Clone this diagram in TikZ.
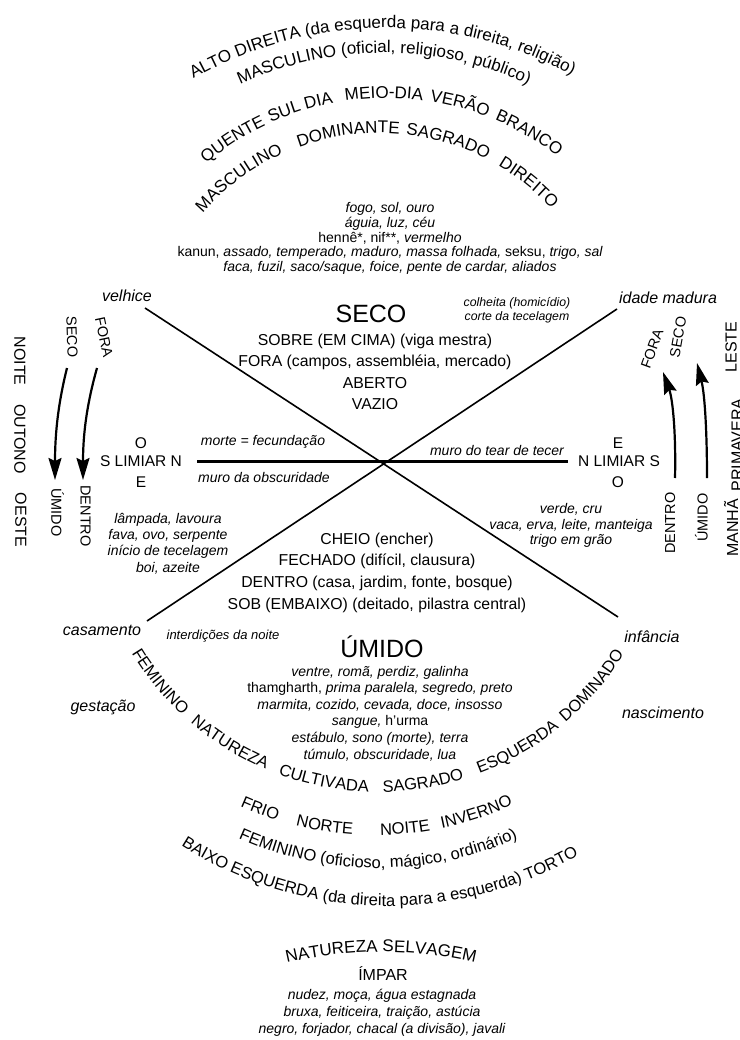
\documentclass[tikz,border=0pt]{standalone}
\usepackage{fontspec}
\setmainfont{Liberation Sans}
\usetikzlibrary{arrows.meta,decorations.text}
\newcommand\arcA{\fontsize{17}{17}\selectfont}
\newcommand\arcB{\fontsize{16.5}{16.5}\selectfont}
% top arc word: cx, cy, R, angle, font, text
\newcommand\warcT[6]{\path[decorate,decoration={text along path,text align=center,text={|#5|#6}}] (#1,#2) ++({#4-60}:#3) arc[start angle={#4-60},end angle={#4+60},radius=#3];}
% bottom arc word
\newcommand\warcB[6]{\path[decorate,decoration={text along path,text align=center,text={|#5|#6}}] (#1,#2) ++({#4+60}:#3) arc[start angle={#4+60},end angle={#4-60},radius=#3];}
\begin{document}
\begin{tikzpicture}[x=1pt,y=-1pt,
  every node/.style={inner sep=0pt,outer sep=0pt},
  mainblk/.style={font=\fontsize{15.8}{21.5}\selectfont,align=center},
  big/.style={font=\fontsize{25}{25}\selectfont},
  lab/.style={font=\itshape\fontsize{16}{16}\selectfont},
  itb/.style={font=\itshape\fontsize{14}{15}\selectfont,align=center},
  small/.style={font=\itshape\fontsize{12.3}{14}\selectfont,align=center},
  side/.style={font=\fontsize{14.5}{14.5}\selectfont},
  season/.style={font=\fontsize{16}{16}\selectfont},
  lim/.style={font=\fontsize{15.5}{15.5}\selectfont},
  arr/.style={line width=2.2pt,-{Stealth[length=22pt,width=13pt,inset=3pt]}},
  ln/.style={line width=1.6pt},
  hl/.style={line width=2.8pt}]
\useasboundingbox (0,0) rectangle (739,1040);
\fill[white] (0,0) rectangle (739,1040);

% ---------- top arcs ----------
\warcT{386}{418}{390}{-90.6}{\arcA}{ALTO DIREITA (da esquerda para a direita, religião)}
\warcT{384}{398}{345}{-90}{\arcA}{MASCULINO (oficial, religioso, público)}
\warcT{386}{378}{280}{-122.7}{\arcA}{QUENTE}
\warcT{386}{378}{280}{-110.9}{\arcA}{SUL}
\warcT{386}{378}{280}{-103.7}{\arcA}{DIA}
\warcT{386}{378}{280}{-90.4}{\arcA}{MEIO-DIA}
\warcT{386}{378}{280}{-74.9}{\arcA}{VERÃO}
\warcT{386}{378}{280}{-59.7}{\arcA}{BRANCO}
\warcT{379}{367}{234}{-126.5}{\arcA}{MASCULINO}
\warcT{379}{367}{234}{-97.5}{\arcA}{DOMINANTE}
\warcT{379}{367}{234}{-73}{\arcA}{SAGRADO}
\warcT{379}{367}{234}{-51}{\arcA}{DIREITO}

% ---------- bottom arcs ----------
\warcB{378}{504}{288}{140.8}{\arcB}{FEMININO}
\warcB{378}{504}{288}{121.8}{\arcB}{NATUREZA}
\warcB{378}{504}{288}{101.1}{\arcB}{CULTIVADA}
\warcB{378}{504}{288}{80.8}{\arcB}{SAGRADO}
\warcB{378}{504}{288}{60.2}{\arcB}{ESQUERDA}
\warcB{378}{504}{288}{40.4}{\arcB}{DOMINADO}
\warcB{375}{505}{330}{110.7}{\arcB}{FRIO}
\warcB{375}{505}{330}{98.9}{\arcB}{NORTE}
\warcB{375}{505}{330}{84.7}{\arcB}{NOITE}
\warcB{375}{505}{330}{71.8}{\arcB}{INVERNO}
\warcB{378}{528}{340}{90}{\arcB}{FEMININO (oficioso, mágico, ordinário)}
\warcB{388}{521}{385}{91.4}{\arcB}{BAIXO ESQUERDA (da direita para a esquerda) TORTO}
\warcT{381}{1367}{415}{-90}{\arcA}{NATUREZA SELVAGEM}

% ---------- lines ----------
\coordinate (velEnd) at (145,308);
\coordinate (infEnd) at (618,617);
\coordinate (madEnd) at (617,309);
\coordinate (casEnd) at (147,621);
\coordinate (limLend) at (197,461.5);
\coordinate (limRend) at (568,461.5);
\draw[ln] (velEnd) -- (infEnd);
\draw[ln] (madEnd) -- (casEnd);
\draw[hl] (limLend) -- (limRend);

% ---------- upper texts ----------
\node[itb,font=\itshape\fontsize{14}{14.8}\selectfont] (topit) at (390,238.5) {fogo, sol, ouro\\
águia, luz, céu\\
{\upshape hennê*, nif**,} vermelho\\
{\upshape kanun,} assado, temperado, maduro, massa folhada, {\upshape seksu,} trigo, sal\\
faca, fuzil, saco/saque, foice, pente de cardar, aliados};
\node[lab] (velhice) at (127,296) {velhice};
\node[lab] (idade) at (668,298) {idade madura};
\node[small] (colheita) at (517,310) {colheita (homicídio)\\corte da tecelagem};
\node[big,anchor=base] (seco) at (371,322) {SECO};
\node[mainblk] (secoblk) at (375,372) {SOBRE (EM CIMA) (viga mestra)\\FORA (campos, assembléia, mercado)\\ABERTO\\VAZIO};

% ---------- threshold ----------
\node[itb] (morte) at (263,442) {morte = fecundação};
\node[itb] (muroT) at (497,450) {muro do tear de tecer};
\node[itb] (muroO) at (264,477) {muro da obscuridade};
\node[lim] (limO) at (141,443) {O};
\node[lim] (limSN) at (141,461) {S LIMIAR N};
\node[lim] (limE) at (141,482) {E};
\node[lim] (limE2) at (618,443) {E};
\node[lim] (limNS) at (619,461) {N LIMIAR S};
\node[lim] (limO2) at (618,482) {O};

\node[itb,font=\itshape\fontsize{14}{16.3}\selectfont] (lamp) at (168,543.5) {lâmpada, lavoura\\fava, ovo, serpente\\início de tecelagem\\boi, azeite};
\node[itb,font=\itshape\fontsize{14}{15.5}\selectfont] (verde) at (571,525.5) {verde, cru\\vaca, erva, leite, manteiga\\trigo em grão};

% ---------- lower texts ----------
\node[mainblk,font=\fontsize{15.8}{21.7}\selectfont] (cheio) at (377,572.5) {CHEIO (encher)\\FECHADO (difícil, clausura)\\DENTRO (casa, jardim, fonte, bosque)\\SOB (EMBAIXO) (deitado, pilastra central)};
\node[lab] (casamento) at (102,630) {casamento};
\node[lab] (infancia) at (652,637) {infância};
\node[itb,font=\itshape\fontsize{13}{13}\selectfont] (interd) at (223,636) {interdições da noite};
\node[big,anchor=base] (umido) at (382,657) {ÚMIDO};
\node[itb,font=\itshape\fontsize{14}{16.6}\selectfont] (lowit) at (380,713.5) {ventre, romã, perdiz, galinha\\
{\upshape thamgharth,} prima paralela, segredo, preto\\
marmita, cozido, cevada, doce, insosso\\
sangue, {\upshape h'urma}\\
estábulo, sono (morte), terra\\
túmulo, obscuridade, lua};
\node[lab] (gestacao) at (103,707) {gestação};
\node[lab] (nascimento) at (663,713) {nascimento};

% ---------- bottom ----------
\node[season,anchor=base] (impar) at (383,980) {ÍMPAR};
\node[itb,font=\itshape\fontsize{14}{17}\selectfont] (botit) at (382,1013) {nudez, moça, água estagnada\\bruxa, feiticeira, traição, astúcia\\negro, forjador, chacal (a divisão), javali};

% ---------- left side ----------
\node[side,rotate=-88] (secoL) at (72,337) {SECO};
\node[side,rotate=-78] (foraL) at (104,337) {FORA};
\node[side,rotate=-90] (umidoL) at (57.5,512.5) {ÚMIDO};
\node[side,rotate=-90] (dentroL) at (85.5,516) {DENTRO};
\node[season,rotate=-90] (noite) at (20,361) {NOITE};
\node[season,rotate=-90] (outono) at (20,439) {OUTONO};
\node[season,rotate=-90] (oeste) at (21,520) {OESTE};
\coordinate (a1s) at (67,368);
\coordinate (a1e) at (55,480);
\coordinate (a2s) at (97,368);
\coordinate (a2e) at (83,480);
\draw[arr] (a1s) .. controls (59,400) and (55,430) .. (a1e);
\draw[arr] (a2s) .. controls (88,400) and (83,430) .. (a2e);

% ---------- right side ----------
\node[side,rotate=70] (foraR) at (652,349) {FORA};
\node[side,rotate=80] (secoR) at (678,337) {SECO};
\node[side,rotate=90] (dentroR) at (670,523) {DENTRO};
\node[side,rotate=90] (umidoR) at (701.5,517.5) {ÚMIDO};
\node[season,rotate=90] (manha) at (731,528) {MANHÃ};
\node[season,rotate=90] (primavera) at (737,445) {PRIMAVERA};
\node[season,rotate=90] (leste) at (731,347) {LESTE};
\coordinate (a3s) at (675,478);
\coordinate (a3e) at (663,372);
\coordinate (a4s) at (707,478);
\coordinate (a4e) at (697,363);
\draw[arr] (a3s) .. controls (676,435) and (673,400) .. (a3e);
\draw[arr] (a4s) .. controls (707,435) and (705,395) .. (a4e);
\end{tikzpicture}
\end{document}
